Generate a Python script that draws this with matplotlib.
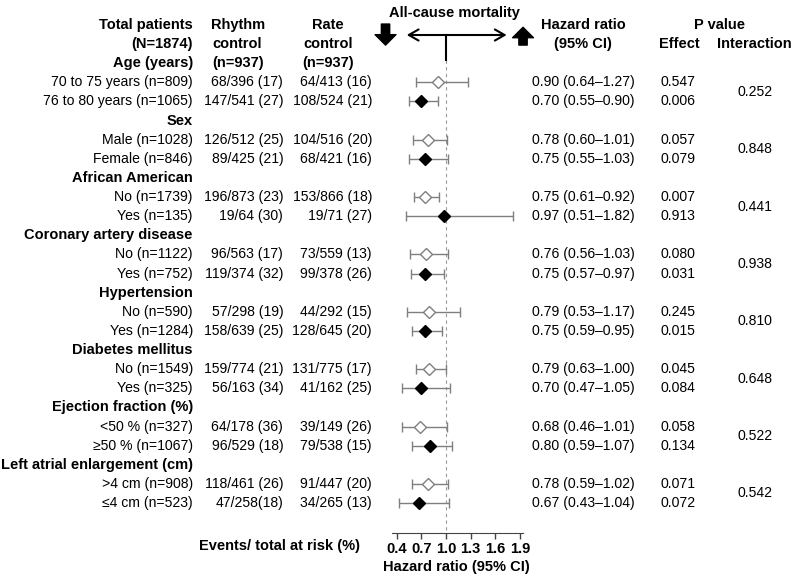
import numpy as np
import matplotlib
matplotlib.use('Agg')
import matplotlib.pyplot as plt
from matplotlib.transforms import blended_transform_factory

plt.rcParams['font.family'] = ['Liberation Sans', 'DejaVu Sans']
FS = 10.1   # regular text
FB = 10.5   # bold headers

# ---- data ----
groups = ['Age (years)', 'Sex', 'African American', 'Coronary artery disease',
          'Hypertension', 'Diabetes mellitus', 'Ejection fraction (%)',
          'Left atrial enlargement (cm)']
sub_labels = ['70 to 75 years (n=809)', '76 to 80 years (n=1065)',
              'Male (n=1028)', 'Female (n=846)',
              'No (n=1739)', 'Yes (n=135)',
              'No (n=1122)', 'Yes (n=752)',
              'No (n=590)', 'Yes (n=1284)',
              'No (n=1549)', 'Yes (n=325)',
              '<50 % (n=327)', '≥50 % (n=1067)',
              '>4 cm (n=908)', '≤4 cm (n=523)']
rhythm = ['68/396 (17)', '147/541 (27)', '126/512 (25)', '89/425 (21)',
          '196/873 (23)', '19/64 (30)', '96/563 (17)', '119/374 (32)',
          '57/298 (19)', '158/639 (25)', '159/774 (21)', '56/163 (34)',
          '64/178 (36)', '96/529 (18)', '118/461 (26)', '47/258(18)']
rate = ['64/413 (16)', '108/524 (21)', '104/516 (20)', '68/421 (16)',
        '153/866 (18)', '19/71 (27)', '73/559 (13)', '99/378 (26)',
        '44/292 (15)', '128/645 (20)', '131/775 (17)', '41/162 (25)',
        '39/149 (26)', '79/538 (15)', '91/447 (20)', '34/265 (13)']
hr = [0.90, 0.70, 0.78, 0.75, 0.75, 0.97, 0.76, 0.75,
      0.79, 0.75, 0.79, 0.70, 0.68, 0.80, 0.78, 0.67]
lo = [0.64, 0.55, 0.60, 0.55, 0.61, 0.51, 0.56, 0.57,
      0.53, 0.59, 0.63, 0.47, 0.46, 0.59, 0.59, 0.43]
hi = [1.27, 0.90, 1.01, 1.03, 0.92, 1.82, 1.03, 0.97,
      1.17, 0.95, 1.00, 1.05, 1.01, 1.07, 1.02, 1.04]
p_effect = ['0.547', '0.006', '0.057', '0.079', '0.007', '0.913', '0.080', '0.031',
            '0.245', '0.015', '0.045', '0.084', '0.058', '0.134', '0.071', '0.072']
p_inter = ['0.252', '0.848', '0.441', '0.938', '0.810', '0.648', '0.522', '0.542']
hr_ticks = [0.4, 0.7, 1.0, 1.3, 1.6, 1.9]

# row positions (row 0 = first header line)
group_rows = np.arange(len(groups)) * 3 + 2
sub_rows = np.array([[g + 1, g + 2] for g in group_rows]).ravel()
axis_row = 26.57

fig = plt.figure(figsize=(8, 5.82), dpi=100)
ax = fig.add_axes([391.7 / 800, 0, 131 / 800, 1])
ax.set_xlim(0.339, 1.933)
ax.set_ylim(29.13, -1.3075)
ax.patch.set_alpha(0)
tr = blended_transform_factory(fig.transFigure, ax.transData)

# headers
for x, ha, lines in [(0.241, 'right', ['Total patients', '(N=1874)']),
                     (0.297, 'center', ['Rhythm', 'control', '(n=937)']),
                     (0.41, 'center', ['Rate', 'control', '(n=937)']),
                     (0.729, 'center', ['Hazard ratio', '(95% CI)'])]:
    for i, s in enumerate(lines):
        ax.text(x, i, s, transform=tr, ha=ha, va='center', fontsize=FB, fontweight='bold')
ax.text(0.899, 0, 'P value', transform=tr, ha='center', va='center', fontsize=FB, fontweight='bold')
ax.text(0.849, 1, 'Effect', transform=tr, ha='center', va='center', fontsize=FB, fontweight='bold')
ax.text(0.943, 1, 'Interaction', transform=tr, ha='center', va='center', fontsize=FB, fontweight='bold')

for g, r in zip(groups, group_rows):
    ax.text(0.241, r, g, transform=tr, ha='right', va='center', fontsize=FB, fontweight='bold')
for i, r in enumerate(sub_rows):
    ax.text(0.241, r, sub_labels[i], transform=tr, ha='right', va='center', fontsize=FS)
    ax.text(0.354, r, rhythm[i], transform=tr, ha='right', va='center', fontsize=FS)
    ax.text(0.465, r, rate[i], transform=tr, ha='right', va='center', fontsize=FS)
    ax.text(0.6646, r, f'{hr[i]:.2f} ({lo[i]:.2f}\u2013{hi[i]:.2f})', transform=tr,
            ha='left', va='center', fontsize=FS)
    ax.text(0.8475, r, p_effect[i], transform=tr, ha='center', va='center', fontsize=FS)
for p, r in zip(p_inter, group_rows):
    ax.text(0.944, r + 1.5, p, transform=tr, ha='center', va='center', fontsize=FS)

# forest plot
hr_a, lo_a, hi_a = np.array(hr), np.array(lo), np.array(hi)
ax.errorbar(hr_a, sub_rows, xerr=[hr_a - lo_a, hi_a - hr_a], fmt='none',
            ecolor='#7f7f7f', elinewidth=1.0, capsize=3.5, capthick=1.0, zorder=2)
ax.plot(hr_a[0::2], sub_rows[0::2], 'D', ms=6.5, mfc='white', mec='#7f7f7f', mew=1.0, ls='none', zorder=3)
ax.plot(hr_a[1::2], sub_rows[1::2], 'D', ms=6.5, mfc='black', mec='black', ls='none', zorder=3)

ax.plot([1.0, 1.0], [1.83, axis_row], ls=(0, (3, 3)), color='#999999', lw=0.8, zorder=1)
ax.plot([1.0, 1.0], [0.523, 1.83], color='black', lw=1.5, clip_on=False)
ax.annotate('', xy=(1.738, 0.523), xytext=(0.522, 0.523),
            arrowprops=dict(arrowstyle='<->,head_length=0.7,head_width=0.4', lw=1.5,
                            color='black', shrinkA=0, shrinkB=0), annotation_clip=False)
blk = 'simple,head_length=0.75,head_width=1.5,tail_width=0.6'
ax.annotate('', xy=(0.264, 1.05), xytext=(0.264, -0.05),
            arrowprops=dict(arrowstyle=blk, color='black', shrinkA=0, shrinkB=0),
            annotation_clip=False)
ax.annotate('', xy=(1.937, 0.12), xytext=(1.937, 1.05),
            arrowprops=dict(arrowstyle=blk, color='black', shrinkA=0, shrinkB=0),
            annotation_clip=False)
ax.text(0.5675, -0.63, 'All-cause mortality', transform=tr, ha='center', va='center',
        fontsize=FB, fontweight='bold')

# axis
for s in ['top', 'left', 'right']:
    ax.spines[s].set_visible(False)
ax.spines['bottom'].set_position(('data', axis_row))
ax.spines['bottom'].set_color('#444444')
ax.set_yticks([])
ax.set_xticks(hr_ticks)
ax.set_xticklabels([f'{t:.1f}' for t in hr_ticks], fontweight='bold', fontsize=FB)
ax.tick_params(axis='x', direction='out', length=4, width=1, color='#444444', pad=2.5)
ax.text(1.13, 28.35, 'Hazard ratio (95% CI)', ha='center', va='center',
        fontsize=FB, fontweight='bold')
ax.text(0.45, 27.25, 'Events/ total at risk (%)', transform=tr, ha='right', va='center',
        fontsize=FB, fontweight='bold')

fig.savefig('out.png', dpi=100)
